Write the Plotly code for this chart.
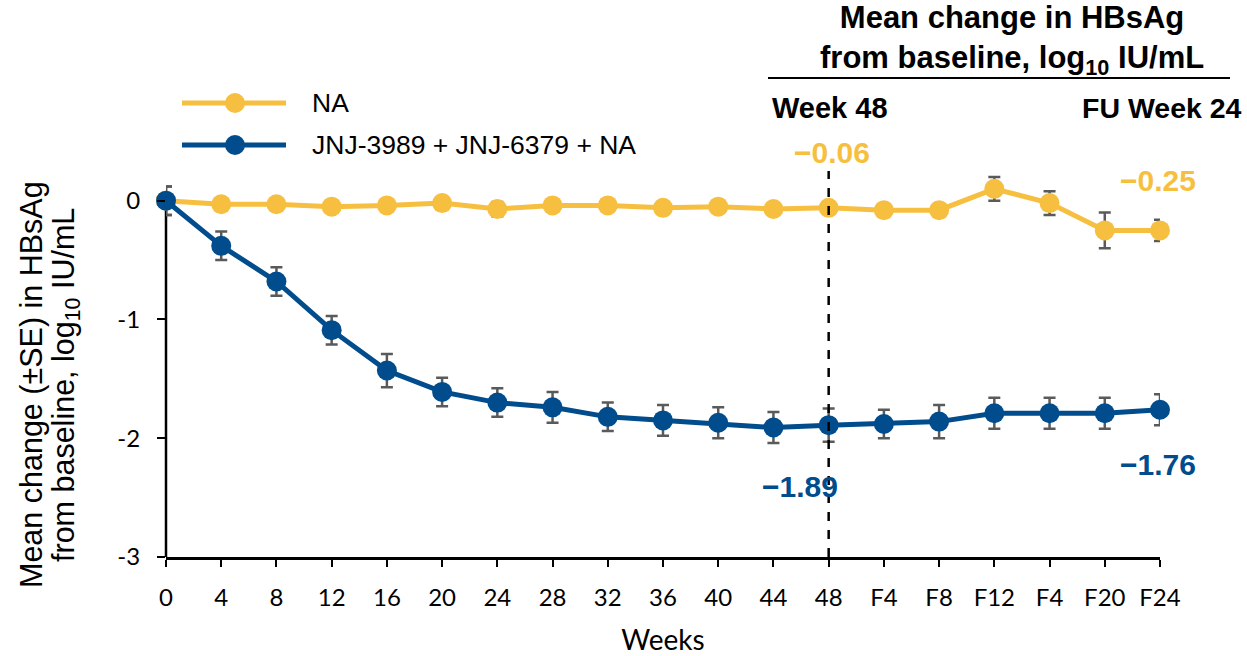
import plotly.graph_objects as go

# Visit positions on the x axis and their tick labels
visit_index = list(range(19))
tick_labels = ["0", "4", "8", "12", "16", "20", "24", "28", "32", "36", "40", "44", "48",
               "F4", "F8", "F12", "F4", "F20", "F24"]

# Mean change from baseline in HBsAg (log10 IU/mL) and standard errors
na_mean = [0.00, -0.03, -0.03, -0.05, -0.04, -0.02, -0.07, -0.04, -0.04, -0.06, -0.05, -0.07,
           -0.06, -0.08, -0.08, 0.10, -0.02, -0.25, -0.25]
na_se = [0.12, 0.04, 0.04, 0.04, 0.04, 0.04, 0.06, 0.04, 0.04, 0.04, 0.04, 0.04,
         0.04, 0.05, 0.05, 0.10, 0.10, 0.15, 0.09]

combo_mean = [0.00, -0.38, -0.68, -1.09, -1.43, -1.61, -1.70, -1.74, -1.82, -1.85, -1.87, -1.91,
              -1.89, -1.88, -1.86, -1.79, -1.79, -1.79, -1.76]
combo_se = [0.12, 0.12, 0.12, 0.12, 0.14, 0.12, 0.12, 0.13, 0.12, 0.13, 0.13, 0.13,
            0.14, 0.12, 0.14, 0.13, 0.13, 0.13, 0.13]

series_names = ["NA", "JNJ-3989 + JNJ-6379 + NA"]
week48_labels = ["\u22120.06", "\u22121.89"]
fu24_labels = ["\u22120.25", "\u22121.76"]

YELLOW = "#F7BF40"
BLUE = "#004C8C"
GREY = "#5A5A5A"

W, H = 1247, 656
L, R, T, B = 166, 87, 171, 99
PW, PH = W - L - R, H - T - B


def px(xp):
    return (xp - L) / PW


def py(yp):
    return (H - B - yp) / PH


fig = go.Figure()

for mean, se, color, name in [(na_mean, na_se, YELLOW, series_names[0]),
                              (combo_mean, combo_se, BLUE, series_names[1])]:
    fig.add_trace(go.Scatter(
        x=visit_index, y=mean, name=name, mode="lines+markers",
        line=dict(color=color, width=5),
        marker=dict(color=color, size=20),
        error_y=dict(type="data", array=se, visible=True, color=GREY,
                     thickness=2.5, width=6),
        cliponaxis=False, showlegend=False,
    ))

fig.update_layout(
    width=W, height=H,
    margin=dict(l=L, r=R, t=T, b=B),
    paper_bgcolor="white", plot_bgcolor="white",
    font=dict(family="Liberation Sans, Arial, sans-serif", color="black"),
    xaxis=dict(
        range=[0, 18], tickvals=visit_index, ticktext=tick_labels,
        showline=True, linecolor="black", linewidth=2.5,
        ticks="outside", ticklen=7, tickwidth=2, tickcolor="black",
        showgrid=False, zeroline=False, ticklabelstandoff=10, automargin=False,
        tickfont=dict(family="Lato, sans-serif", size=24, color="black"),
        title=dict(text="Weeks", font=dict(family="Lato, sans-serif", size=28), standoff=21),
    ),
    yaxis=dict(
        range=[-3, 0.25], tickvals=[0, -1, -2, -3], ticktext=["0", "-1", "-2", "-3"],
        showline=False, automargin=False,
        ticks="outside", ticklen=8, tickwidth=2, tickcolor="black",
        showgrid=False, zeroline=False, ticklabelstandoff=12,
        tickfont=dict(family="Lato, sans-serif", size=24, color="black"),
    ),
)

# y-axis line stops just above zero
fig.add_shape(type="line", xref="paper", yref="y", x0=0, x1=0, y0=-3.01, y1=0.05,
              line=dict(color="black", width=2.5), layer="below")

# Week 48 reference line
fig.add_shape(type="line", xref="x", yref="y", x0=12, x1=12, y0=-3, y1=0.36,
              line=dict(color="black", width=2.5, dash="dash"))

annotations = [
    # y-axis title (two lines)
    dict(x=px(31), y=py(385), text="Mean change (\u00b1SE) in HBsAg", textangle=-90,
         font=dict(size=30.5)),
    dict(x=px(65), y=py(385), text="from baseline, log<sub>10</sub> IU/mL", textangle=-90,
         font=dict(size=30.5)),
    # header block
    dict(x=px(1012), y=py(40), text="<b>Mean change in HBsAg<br>from baseline, log<sub>10</sub> IU/mL</b>",
         font=dict(size=31)),
    dict(x=px(830), y=py(108), text="<b>Week 48</b>", font=dict(size=29)),
    dict(x=px(1244), y=py(108), text="<b>FU Week 24</b>", font=dict(size=28.5), xanchor="right"),
    # value labels
    dict(x=px(832), y=py(152), text="<b>" + week48_labels[0] + "</b>", font=dict(size=30, color=YELLOW)),
    dict(x=px(1158), y=py(180), text="<b>" + fu24_labels[0] + "</b>", font=dict(size=30, color=YELLOW)),
    dict(x=px(800), y=py(486), text="<b>" + week48_labels[1] + "</b>", font=dict(size=30, color=BLUE)),
    dict(x=px(1158), y=py(464), text="<b>" + fu24_labels[1] + "</b>", font=dict(size=30, color=BLUE)),
    # legend text
    dict(x=px(310), y=py(103), text=series_names[0], xanchor="left", font=dict(size=26.5)),
    dict(x=px(310), y=py(145), text=series_names[1], xanchor="left", font=dict(size=26.5)),
]
for a in annotations:
    a.setdefault("xref", "paper")
    a.setdefault("yref", "paper")
    a.setdefault("showarrow", False)
    a.setdefault("xanchor", "center")
    a.setdefault("yanchor", "middle")
    fig.add_annotation(**a)

# header rule
fig.add_shape(type="line", xref="paper", yref="paper", x0=px(768), x1=px(1230),
              y0=py(78), y1=py(78), line=dict(color="black", width=2))

# legend swatches
for yp, color in [(103, YELLOW), (145, BLUE)]:
    fig.add_shape(type="line", xref="paper", yref="paper", x0=px(182), x1=px(286),
                  y0=py(yp), y1=py(yp), line=dict(color=color, width=5))
    fig.add_shape(type="circle", xref="paper", yref="paper",
                  xsizemode="pixel", ysizemode="pixel",
                  xanchor=px(235), yanchor=py(yp), x0=-10, x1=10, y0=-10, y1=10,
                  fillcolor=color, line=dict(color=color, width=0))

fig.write_html("out.html")
